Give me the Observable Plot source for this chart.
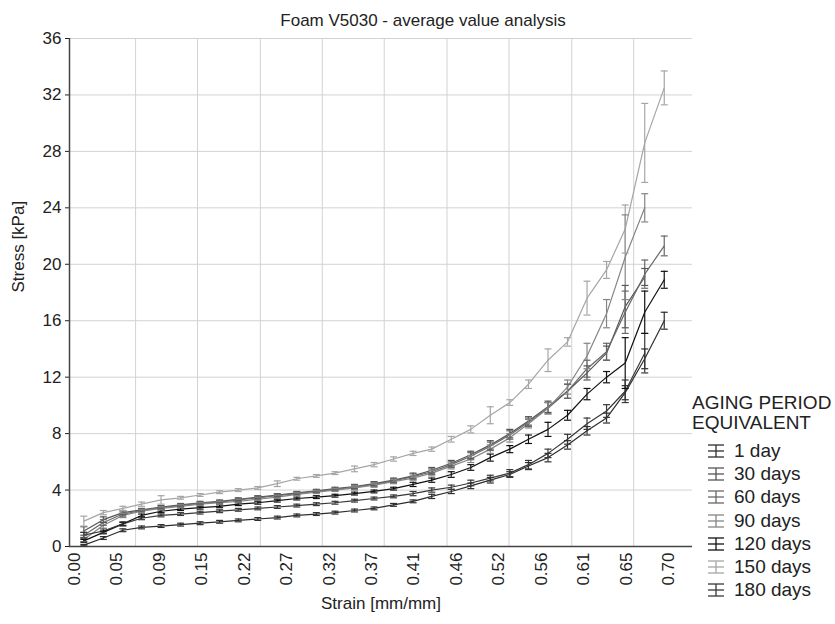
<!DOCTYPE html>
<html><head><meta charset="utf-8">
<script src="https://cdn.jsdelivr.net/npm/d3@7"></script>
<script src="https://cdn.jsdelivr.net/npm/@observablehq/plot@0.6"></script>
<style>
body{margin:0;background:#fff;font-family:"Liberation Sans",Arial,sans-serif;}
#chart{position:relative;width:835px;height:624px;overflow:hidden;}
#chart > svg{position:absolute;left:0;top:0;}
#legend{position:absolute;left:692px;top:393px;font-size:19px;color:#222;line-height:20px;}
.lg-item{display:flex;align-items:center;height:23.3px;}
.lg-item svg{display:block;margin-left:15px;margin-right:9px;}
</style></head><body><div id="chart"></div>
<script>
const chartTitle = "Foam V5030 - average value analysis";
const xLabel = "Strain [mm/mm]";
const yLabel = "Stress [kPa]";
const legendTitle = ["AGING PERIOD", "EQUIVALENT"];

const seriesNames = ["1 day", "30 days", "60 days", "90 days", "120 days", "150 days", "180 days"];
const seriesColors = ["#2e2e2e", "#555555", "#686868", "#858585", "#111111", "#a6a6a6", "#383838"];

const xTickValues = [0, 0.05, 0.10, 0.15, 0.20, 0.25, 0.30, 0.35, 0.40, 0.45, 0.50, 0.55, 0.60, 0.65, 0.70];
const xTickLabels = ["0.00", "0.05", "0.09", "0.15", "0.22", "0.27", "0.32", "0.37", "0.41", "0.46", "0.52", "0.56", "0.61", "0.65", "0.70"];
const xGrid = [0.072, 0.145, 0.219, 0.292, 0.365, 0.439, 0.512, 0.586, 0.659];
const yTicks = [0, 4, 8, 12, 16, 20, 24, 28, 32, 36];

const strain = [0.011, 0.034, 0.057, 0.079, 0.102, 0.125, 0.148, 0.171, 0.193, 0.216, 0.239, 0.262, 0.285, 0.307, 0.330, 0.353, 0.376, 0.399, 0.421, 0.444, 0.467, 0.490, 0.513, 0.535, 0.558, 0.581, 0.604, 0.627, 0.649, 0.672, 0.695];

const stress1day = [0.1, 0.6, 1.15, 1.35, 1.45, 1.55, 1.65, 1.75, 1.85, 1.95, 2.05, 2.2, 2.3, 2.4, 2.55, 2.7, 2.95, 3.2, 3.55, 3.9, 4.3, 4.7, 5.1, 5.7, 6.3, 7.2, 8.2, 9.1, 10.9, 13.3, 16.0];
const err1day = [0.05, 0.1, 0.1, 0.1, 0.1, 0.1, 0.1, 0.1, 0.1, 0.1, 0.1, 0.1, 0.1, 0.1, 0.1, 0.1, 0.1, 0.1, 0.15, 0.15, 0.2, 0.2, 0.2, 0.25, 0.3, 0.3, 0.3, 0.35, 0.5, 0.7, 0.6];

const stress30 = [1.1, 1.9, 2.4, 2.6, 2.8, 2.95, 3.1, 3.2, 3.35, 3.5, 3.65, 3.8, 3.95, 4.1, 4.25, 4.45, 4.7, 5.0, 5.4, 5.9, 6.5, 7.2, 8.0, 8.9, 9.9, 11.0, 12.3, 13.7, 17.0, 19.1];
const err30 = [0.3, 0.2, 0.15, 0.1, 0.1, 0.1, 0.1, 0.1, 0.1, 0.1, 0.1, 0.1, 0.1, 0.1, 0.15, 0.15, 0.15, 0.2, 0.2, 0.2, 0.25, 0.3, 0.3, 0.3, 0.4, 0.5, 0.5, 0.5, 1.5, 0.6];

const stress60 = [0.8, 1.7, 2.3, 2.55, 2.75, 2.9, 3.05, 3.15, 3.3, 3.45, 3.6, 3.75, 3.9, 4.05, 4.2, 4.4, 4.65, 4.95, 5.3, 5.8, 6.4, 7.1, 7.9, 8.8, 9.8, 11.0, 12.6, 13.8, 16.6, 19.3, 21.3];
const err60 = [0.2, 0.2, 0.15, 0.1, 0.1, 0.1, 0.1, 0.1, 0.1, 0.1, 0.1, 0.1, 0.1, 0.1, 0.15, 0.15, 0.15, 0.2, 0.2, 0.2, 0.25, 0.3, 0.3, 0.3, 0.4, 0.5, 0.6, 0.6, 1.5, 1.0, 0.7];

const stress90 = [0.5, 1.5, 2.2, 2.5, 2.7, 2.85, 3.0, 3.1, 3.2, 3.35, 3.5, 3.7, 3.85, 4.0, 4.15, 4.35, 4.6, 4.85, 5.2, 5.7, 6.2, 6.9, 7.7, 8.7, 9.8, 11.3, 13.5, 16.5, 20.5, 24.0];
const err90 = [0.15, 0.2, 0.15, 0.1, 0.1, 0.1, 0.1, 0.1, 0.1, 0.1, 0.1, 0.1, 0.1, 0.1, 0.15, 0.15, 0.15, 0.15, 0.2, 0.2, 0.25, 0.3, 0.3, 0.3, 0.4, 0.5, 0.9, 1.0, 3.0, 1.0];

const stress120 = [0.4, 1.0, 1.6, 2.2, 2.5, 2.65, 2.75, 2.85, 3.0, 3.1, 3.25, 3.4, 3.5, 3.6, 3.75, 3.9, 4.1, 4.4, 4.7, 5.1, 5.6, 6.3, 6.9, 7.6, 8.3, 9.3, 10.8, 12.0, 13.0, 16.6, 18.9];
const err120 = [0.1, 0.1, 0.1, 0.1, 0.1, 0.1, 0.1, 0.1, 0.1, 0.1, 0.1, 0.1, 0.1, 0.1, 0.1, 0.1, 0.1, 0.15, 0.15, 0.2, 0.2, 0.25, 0.25, 0.3, 0.5, 0.35, 0.4, 0.4, 1.8, 1.5, 0.6];

const stress150 = [1.8, 2.4, 2.7, 3.0, 3.3, 3.45, 3.65, 3.85, 4.0, 4.15, 4.45, 4.8, 5.0, 5.2, 5.5, 5.8, 6.2, 6.6, 6.9, 7.6, 8.3, 9.3, 10.2, 11.5, 13.2, 14.5, 17.6, 19.6, 22.5, 28.6, 32.5];
const err150 = [0.35, 0.15, 0.15, 0.15, 0.3, 0.1, 0.1, 0.1, 0.1, 0.1, 0.2, 0.1, 0.1, 0.1, 0.2, 0.15, 0.15, 0.15, 0.15, 0.2, 0.25, 0.6, 0.2, 0.3, 0.8, 0.3, 1.2, 0.6, 1.7, 2.8, 1.2];

const stress180 = [0.8, 1.1, 1.6, 2.0, 2.2, 2.3, 2.4, 2.5, 2.6, 2.7, 2.8, 2.9, 3.0, 3.1, 3.25, 3.4, 3.55, 3.75, 4.0, 4.2, 4.5, 4.85, 5.2, 5.8, 6.6, 7.6, 8.7, 9.6, 11.0, 13.7];
const err180 = [0.2, 0.15, 0.15, 0.1, 0.1, 0.1, 0.1, 0.1, 0.1, 0.1, 0.1, 0.1, 0.1, 0.1, 0.1, 0.1, 0.1, 0.15, 0.15, 0.15, 0.2, 0.2, 0.25, 0.3, 0.3, 0.35, 0.4, 0.45, 0.8, 1.4];

const seriesStress = [stress1day, stress30, stress60, stress90, stress120, stress150, stress180];
const seriesErr = [err1day, err30, err60, err90, err120, err150, err180];

const rows = [];
seriesNames.forEach((name, s) => {
  seriesStress[s].forEach((v, i) => {
    rows.push({series: name, strain: strain[i], stress: v, err: seriesErr[s][i]});
  });
});

const FONT = '"Liberation Sans", Arial, sans-serif';
const xDomain = [-0.0059, 0.7283];
const cap = {draw(ctx) { ctx.moveTo(-3.5, 0); ctx.lineTo(3.5, 0); }};

const chart = Plot.plot({
  width: 835, height: 624,
  marginLeft: 69, marginRight: 143, marginTop: 38, marginBottom: 78,
  style: {fontFamily: FONT, fontSize: "17px", color: "#222", background: "#fff", overflow: "visible"},
  x: {domain: xDomain},
  y: {domain: [0, 36]},
  color: {domain: seriesNames, range: seriesColors},
  marks: [
    Plot.gridX(xGrid, {stroke: "#d2d2d2", strokeOpacity: 1}),
    Plot.gridY(yTicks.slice(1), {stroke: "#d2d2d2", strokeOpacity: 1}),
    Plot.axisX(xTickValues, {tickFormat: d => xTickLabels[xTickValues.indexOf(d)], tickRotate: -90, tickSize: 0, tickPadding: 6, label: null, fontSize: 17}),
    Plot.axisY(yTicks, {tickSize: 4, tickPadding: 4, label: null, fontSize: 17}),
    Plot.ruleY([0], {stroke: "#444", strokeWidth: 1.5}),
    Plot.ruleX([xDomain[0]], {stroke: "#444", strokeWidth: 1.5}),
    Plot.line(rows, {x: "strain", y: "stress", z: "series", stroke: "series", strokeWidth: 1.2}),
    Plot.ruleX(rows, {x: "strain", y1: d => d.stress - d.err, y2: d => d.stress + d.err, stroke: "series", strokeWidth: 1.2}),
    Plot.dot(rows, {x: "strain", y: d => d.stress + d.err, symbol: cap, fill: "none", stroke: "series", strokeWidth: 1.2}),
    Plot.dot(rows, {x: "strain", y: d => d.stress - d.err, symbol: cap, fill: "none", stroke: "series", strokeWidth: 1.2}),
    Plot.text([chartTitle], {text: d => d, frameAnchor: "top", dx: 42, dy: -25, fontSize: 17, fill: "#222"}),
    Plot.text([xLabel], {text: d => d, frameAnchor: "bottom", dy: 62, fontSize: 17, fill: "#222"}),
    Plot.text([yLabel], {text: d => d, frameAnchor: "left", dx: -51, rotate: -90, fontSize: 17, fill: "#222"})
  ]
});
document.getElementById("chart").appendChild(chart);

const legend = d3.select("#chart").append("div").attr("id", "legend");
legendTitle.forEach(t => legend.append("div").text(t));
const items = legend.append("div").style("margin-top", "6px");
seriesNames.forEach((name, s) => {
  const it = items.append("div").attr("class", "lg-item");
  const sv = it.append("svg").attr("width", 18).attr("height", 14);
  const c = seriesColors[s];
  sv.append("line").attr("x1", 9).attr("x2", 9).attr("y1", 1).attr("y2", 13).attr("stroke", c).attr("stroke-width", 1.3);
  [1, 7, 13].forEach(y => sv.append("line").attr("x1", 1).attr("x2", 17).attr("y1", y).attr("y2", y).attr("stroke", c).attr("stroke-width", 1.3));
  it.append("span").text(name);
});
</script>
</body></html>
